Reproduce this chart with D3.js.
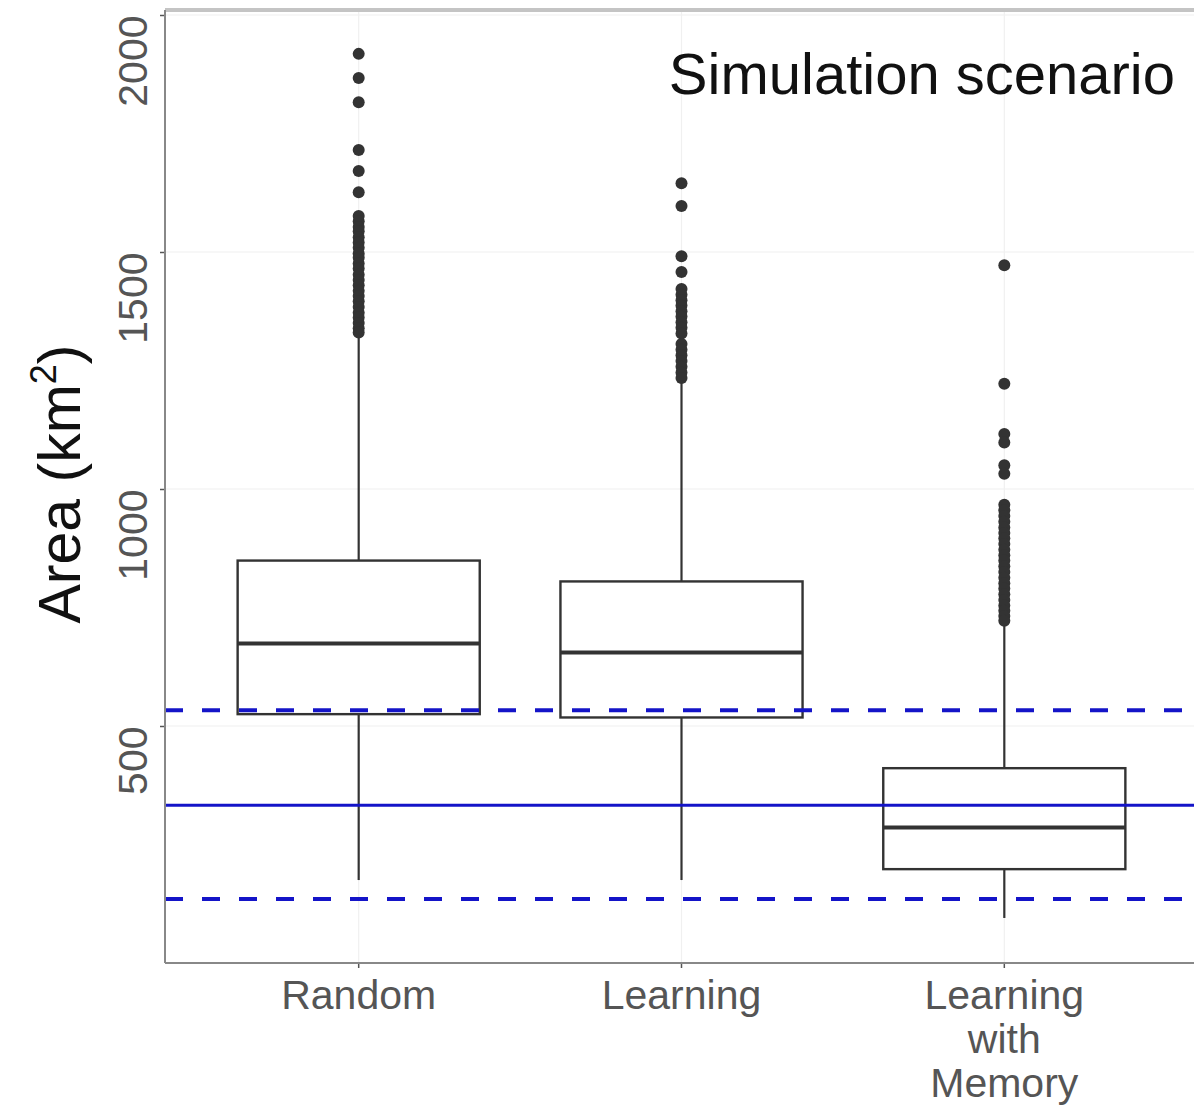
<!DOCTYPE html>
<html>
<head>
<meta charset="utf-8">
<script src="https://cdnjs.cloudflare.com/ajax/libs/d3/7.8.5/d3.min.js"></script>
<style>
  body { margin: 0; background: #fff; }
  #chart_div { width: 1194px; height: 1106px; }
</style>
</head>
<body>
<div id="chart_div"></div>
<script>
// data
var scenarios = ['Random', 'Learning', 'Learning with Memory'];
var whiskerLow = [175, 175, 95];
var q1 = [525, 518, 198];
var medians = [674, 655, 286];
var q3 = [849, 805, 411];
var whiskerHigh = [1325, 1225, 712];

var outliersRandom = [1918, 1867, 1816, 1715, 1671, 1626, 1576, 1565, 1553, 1544, 1531, 1520,
  1509, 1497, 1488, 1476, 1465, 1452, 1441, 1430, 1418, 1407, 1396, 1384, 1372, 1362, 1350, 1339, 1330];
var outliersLearning = [1645, 1597, 1491, 1458, 1422, 1410, 1398, 1387, 1375, 1364, 1352, 1340,
  1328, 1306, 1294, 1282, 1270, 1258, 1246, 1234];
var outliersMemory = [1472, 1222, 1116, 1098, 1050, 1032, 967, 955, 943, 931, 919, 907, 896, 884,
  872, 860, 849, 837, 825, 813, 801, 790, 778, 766, 754, 743, 732, 722];
var outliers = [outliersRandom, outliersLearning, outliersMemory];

var observedMean = 333;
var observedLow = 135;
var observedHigh = 533;

var yTicks = [500, 1000, 1500, 2000];
var xLabelLines = [['Random'], ['Learning'], ['Learning', 'with', 'Memory']];

var w = 1194;
var h = 1106;

var chart = d3.select('#chart_div')
    .append('svg')
    .attr('width', w)
    .attr('height', h)
    .style('display', 'block')
    .style('font-family', '"Liberation Sans", Arial, sans-serif');

var panel = {left: 165, right: 1198, top: 10, bottom: 963};

var y = d3.scaleLinear().domain([0, 2000]).range([963, 15]);
// ggplot style discrete expansion: 0.6 of a category on each side
var unit = (panel.right - panel.left) / 3.2;
var x = d3.scaleBand().domain(scenarios)
    .range([panel.left + 0.1 * unit, panel.right - 0.1 * unit]);
var boxW = x.bandwidth() * 0.75;
function cx(s) { return x(s) + x.bandwidth() / 2; }

// grid
for (var i = 0; i < yTicks.length; i++) {
    chart.append('line')
        .attr('x1', panel.left).attr('x2', panel.right)
        .attr('y1', y(yTicks[i])).attr('y2', y(yTicks[i]))
        .style('stroke', '#f0f0f0').style('stroke-width', 1.2);
}
for (var i = 0; i < scenarios.length; i++) {
    chart.append('line')
        .attr('x1', cx(scenarios[i])).attr('x2', cx(scenarios[i]))
        .attr('y1', panel.top).attr('y2', panel.bottom)
        .style('stroke', '#f0f0f0').style('stroke-width', 1.2);
}

// top border (cut off panel edge)
chart.append('line')
    .attr('x1', panel.left).attr('x2', w)
    .attr('y1', 10).attr('y2', 10)
    .style('stroke', '#c4c4c4').style('stroke-width', 4);

// boxes
for (var i = 0; i < scenarios.length; i++) {
    var s = scenarios[i];
    var c = cx(s);
    chart.append('line')
        .attr('x1', c).attr('x2', c)
        .attr('y1', y(q3[i])).attr('y2', y(whiskerHigh[i]))
        .style('stroke', '#333').style('stroke-width', 2.2);
    chart.append('line')
        .attr('x1', c).attr('x2', c)
        .attr('y1', y(q1[i])).attr('y2', y(whiskerLow[i]))
        .style('stroke', '#333').style('stroke-width', 2.2);
    chart.append('rect')
        .attr('x', c - boxW / 2)
        .attr('y', y(q3[i]))
        .attr('width', boxW)
        .attr('height', y(q1[i]) - y(q3[i]))
        .style('fill', '#fff')
        .style('stroke', '#333')
        .style('stroke-width', 2.4);
    chart.append('line')
        .attr('x1', c - boxW / 2).attr('x2', c + boxW / 2)
        .attr('y1', y(medians[i])).attr('y2', y(medians[i]))
        .style('stroke', '#333').style('stroke-width', 4);
    for (var j = 0; j < outliers[i].length; j++) {
        chart.append('circle')
            .attr('cx', c)
            .attr('cy', y(outliers[i][j]))
            .attr('r', 6)
            .style('fill', '#333');
    }
}

// reference lines
chart.append('line')
    .attr('x1', panel.left).attr('x2', panel.right)
    .attr('y1', y(observedMean)).attr('y2', y(observedMean))
    .style('stroke', '#1414c8').style('stroke-width', 3);
var dashed = [observedLow, observedHigh];
for (var i = 0; i < dashed.length; i++) {
    chart.append('line')
        .attr('x1', panel.left).attr('x2', panel.right)
        .attr('y1', y(dashed[i])).attr('y2', y(dashed[i]))
        .style('stroke', '#1414c8').style('stroke-width', 4)
        .style('stroke-dasharray', '18,19');
}

// axes
var yAxis = chart.append('g')
    .attr('transform', 'translate(' + panel.left + ',0)')
    .call(d3.axisLeft(y).tickValues(yTicks).tickFormat(d3.format('d')).tickSize(5).tickSizeOuter(0));
yAxis.select('.domain').remove();
yAxis.selectAll('.tick line').style('stroke', '#555').style('stroke-width', 1.5);
yAxis.selectAll('.tick text')
    .attr('x', 0).attr('dy', 0)
    .attr('transform', 'translate(-18,0) rotate(-90)')
    .style('text-anchor', 'end')
    .style('font-size', '41px')
    .style('fill', '#555');

chart.append('line')
    .attr('x1', panel.left).attr('x2', panel.left)
    .attr('y1', panel.top).attr('y2', panel.bottom)
    .style('stroke', '#888').style('stroke-width', 2);

var xAxis = chart.append('g')
    .attr('transform', 'translate(0,' + panel.bottom + ')')
    .call(d3.axisBottom(x).tickSize(5).tickSizeOuter(0));
xAxis.select('.domain').remove();
xAxis.selectAll('.tick line').style('stroke', '#555').style('stroke-width', 1.5);
xAxis.selectAll('.tick text').remove();

chart.append('line')
    .attr('x1', panel.left).attr('x2', w)
    .attr('y1', panel.bottom).attr('y2', panel.bottom)
    .style('stroke', '#888').style('stroke-width', 2);

for (var i = 0; i < scenarios.length; i++) {
    var t = chart.append('text')
        .attr('x', cx(scenarios[i]))
        .attr('y', 1009)
        .style('text-anchor', 'middle')
        .style('font-size', '41px')
        .style('fill', '#555');
    for (var j = 0; j < xLabelLines[i].length; j++) {
        t.append('tspan')
            .attr('x', cx(scenarios[i]))
            .attr('dy', j == 0 ? 0 : 44)
            .text(xLabelLines[i][j]);
    }
}

// axis title
var yTitle = chart.append('text')
    .attr('transform', 'translate(80,484) rotate(-90)')
    .style('text-anchor', 'middle')
    .style('font-size', '59px')
    .style('fill', '#111');
yTitle.append('tspan').text('Area (km');
yTitle.append('tspan').attr('dy', -24).style('font-size', '36px').text('2');
yTitle.append('tspan').attr('dy', 24).text(')');

// title
chart.append('text')
    .attr('x', 1175)
    .attr('y', 94)
    .style('text-anchor', 'end')
    .style('font-size', '58px')
    .style('fill', '#111')
    .text('Simulation scenario');
</script>
</body>
</html>
